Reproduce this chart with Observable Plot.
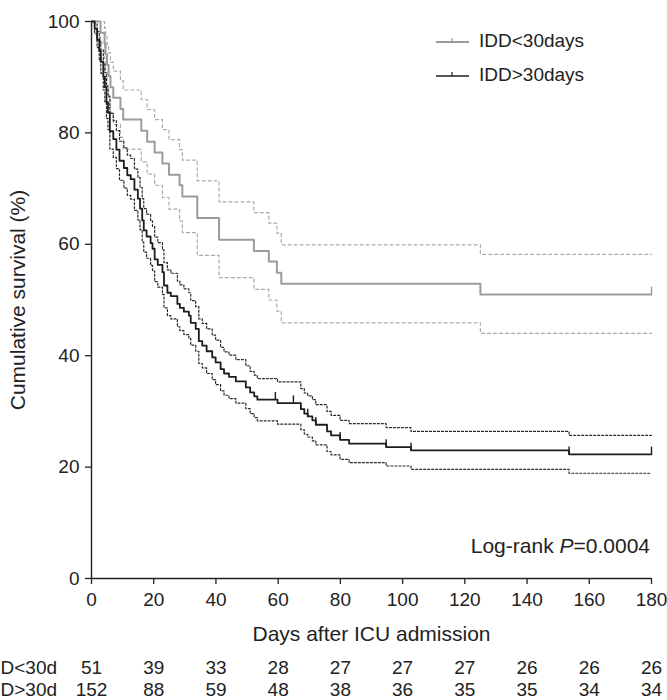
<!DOCTYPE html>
<html><head><meta charset="utf-8">
<script src="https://cdn.jsdelivr.net/npm/d3@7"></script>
<script src="https://cdn.jsdelivr.net/npm/@observablehq/plot@0.6"></script>
<style>
body{margin:0;background:#fff;font-family:"Liberation Sans",Arial,sans-serif;}
#wrap{position:relative;width:667px;height:700px;overflow:hidden;background:#fff;}
#wrap svg{display:block;}
.leg{position:absolute;font-size:19px;color:#222;display:flex;align-items:center;white-space:nowrap;}
#logrank{position:absolute;right:17px;top:534px;font-size:21px;color:#222;white-space:nowrap;}
</style></head><body><div id="wrap"></div>
<script>
// ---- data ----
const groups = ["IDD<30days", "IDD>30days"];
const riskLabels = ["IDD<30d", "IDD>30d"];

const lowTime  = [0,2.9,4.2,4.5,5.0,5.5,6.1,7.0,9.3,10.2,16.0,17.9,20.3,22.8,24.9,28.3,29.2,34,41,52.2,57,59.6,61,125,180];
const lowSurv  = [100,98.0,96.1,94.1,92.2,90.2,88.2,86.3,84.3,82.4,80.4,78.4,76.5,74.5,72.5,70.6,68.6,64.7,60.8,58.8,56.9,54.9,52.9,51.0,51.0];
const lowUpper = [100,100,98.8,97.4,95.9,94.4,92.7,91.1,89.4,87.7,86.0,84.2,82.4,80.6,78.8,77.0,75.1,71.4,67.6,65.7,63.8,62.0,59.9,58.2,58.2];
const lowLower = [100,96.1,93.4,90.8,88.4,86.0,83.7,81.5,79.2,77.1,74.8,72.6,70.6,68.4,66.3,64.2,62.1,58.0,54.0,51.9,50.0,48.0,45.9,44.0,44.0];
const lowCensor = [180];

const highTime  = [0,1.0,1.8,2.5,3.0,3.8,4.3,4.8,5.3,5.9,7.0,8.0,9.0,10.4,11.5,12.6,13.8,14.9,15.6,16.3,16.8,17.7,19.0,19.6,20.3,21.3,22.8,23.3,24.4,25.5,27.6,28.4,29.7,31.3,31.9,33.5,34.5,35.6,37.0,38.8,39.9,41.5,42.6,44.2,46.4,49.6,51.0,52.3,53.3,59.8,67.3,68.4,69.5,71.0,72.1,75.7,77.0,79.9,82.8,94.7,102.7,153.5,180];
const highSurv  = [100,98.7,96.7,94.7,92.8,90.1,88.2,85.5,83.6,80.3,78.9,77.0,75.0,73.7,72.4,71.7,69.8,68.2,66.4,64.3,62.5,61.4,60.2,59.2,57.3,56.3,55.0,52.6,51.3,50.7,49.3,48.6,47.9,47.2,45.9,44.8,42.6,41.8,40.8,39.7,38.8,37.6,36.8,36.2,35.4,34.3,33.4,32.7,32.1,31.5,30.4,29.6,29.1,28.4,27.6,26.4,25.7,24.9,24.2,23.6,23.0,22.3,22.3];
const highUpper = [100,99.6,98.2,96.5,94.9,92.5,90.8,88.4,86.6,83.5,82.2,80.4,78.5,77.3,76.0,75.4,73.5,72.0,70.2,68.2,66.4,65.4,64.2,63.2,61.3,60.3,59.0,56.7,55.4,54.8,53.4,52.7,52.0,51.3,49.9,48.8,46.6,45.8,44.8,43.7,42.8,41.5,40.7,40.1,39.3,38.2,37.2,36.5,35.9,35.3,34.1,33.3,32.8,32.1,31.2,30.0,29.3,28.4,27.8,27.1,26.4,25.7,25.7];
const highLower = [100,97.8,95.3,92.9,90.7,87.7,85.6,82.6,80.6,77.1,75.6,73.6,71.5,70.1,68.8,68.1,66.1,64.4,62.6,60.4,58.6,57.5,56.2,55.2,53.3,52.3,51.0,48.6,47.2,46.6,45.2,44.5,43.8,43.1,41.9,40.8,38.6,37.8,36.8,35.7,34.8,33.7,32.9,32.3,31.5,30.5,29.6,28.9,28.3,27.7,26.7,25.9,25.4,24.7,24.0,22.8,22.2,21.4,20.8,20.2,19.6,18.9,18.9];
const highCensor = [59.1,64.9,69.5,72.1,79.9,94.7,102.7,153.5,180];

const xTicks = [0,20,40,60,80,100,120,140,160,180];
const yTicks = [0,20,40,60,80,100];
const riskDays = [0,20,40,60,80,100,120,140,160,180];
const riskLow  = [51,39,33,28,27,27,27,26,26,26];
const riskHigh = [152,88,59,48,38,36,35,35,34,34];

// ---- build tables ----
const series = (t, v) => t.map((d, i) => ({t: d, v: v[i]}));
const survAt = (times, surv, t) => { let v = surv[0]; times.forEach((d, i) => { if (d <= t) v = surv[i]; }); return v; };
const censor = (c, times, surv) => c.map(t => ({t, v: survAt(times, surv, t)}));

const font = "Liberation Sans, Arial, Helvetica, sans-serif";
const fsTick = 19, fsLabel = 21, fsTable = 19;
const grayC = "#9b9b9b", grayCI = "#ababab", blackC = "#1c1c1c", blackCI = "#2a2a2a";

const main = Plot.plot({
  width: 667, height: 645,
  marginLeft: 91, marginRight: 16, marginTop: 21, marginBottom: 67,
  style: {fontFamily: font, fontSize: fsTick + "px", color: "#222", background: "#fff", overflow: "visible"},
  x: {domain: [0, 180]},
  y: {domain: [0, 100]},
  marks: [
    Plot.axisY({ticks: yTicks, tickSize: 6, tickPadding: 6, fontSize: fsTick, strokeWidth: 1.3, label: null}),
    Plot.axisY({ticks: [], tickSize: 0, fontSize: fsLabel,
      label: "Cumulative survival (%)", labelAnchor: "center", labelArrow: "none", labelOffset: 81}),
    Plot.axisX({ticks: xTicks, tickSize: 6, tickPadding: 8, fontSize: fsTick, strokeWidth: 1.3, label: null}),
    Plot.axisX({ticks: [], tickSize: 0, fontSize: fsLabel,
      label: "Days after ICU admission", labelAnchor: "center", labelArrow: "none", labelOffset: 62}),
    Plot.ruleX([0], {stroke: "#222", strokeWidth: 1.4}),
    Plot.ruleY([0], {stroke: "#222", strokeWidth: 1.4}),
    Plot.line(series(lowTime, lowUpper), {x: "t", y: "v", curve: "step-after", stroke: grayCI, strokeWidth: 1.2, strokeDasharray: "3,3"}),
    Plot.line(series(lowTime, lowLower), {x: "t", y: "v", curve: "step-after", stroke: grayCI, strokeWidth: 1.2, strokeDasharray: "3,3"}),
    Plot.line(series(highTime, highUpper), {x: "t", y: "v", curve: "step-after", stroke: blackCI, strokeWidth: 1.2, strokeDasharray: "2,2"}),
    Plot.line(series(highTime, highLower), {x: "t", y: "v", curve: "step-after", stroke: blackCI, strokeWidth: 1.2, strokeDasharray: "2,2"}),
    Plot.line(series(lowTime, lowSurv), {x: "t", y: "v", curve: "step-after", stroke: grayC, strokeWidth: 2}),
    Plot.line(series(highTime, highSurv), {x: "t", y: "v", curve: "step-after", stroke: blackC, strokeWidth: 1.8}),
    Plot.ruleX(censor(lowCensor, lowTime, lowSurv), {x: "t", y1: "v", y2: d => d.v + 1.3, stroke: grayC, strokeWidth: 1.4}),
    Plot.ruleX(censor(highCensor, highTime, highSurv), {x: "t", y1: "v", y2: d => d.v + 1.3, stroke: blackC, strokeWidth: 1.4})
  ]
});

const riskRows = riskDays.flatMap((d, i) => [
  {t: d, g: riskLabels[0], n: riskLow[i]},
  {t: d, g: riskLabels[1], n: riskHigh[i]}
]);

const table = Plot.plot({
  width: 667, height: 55,
  marginLeft: 91, marginRight: 16, marginTop: 0, marginBottom: 0,
  style: {fontFamily: font, fontSize: fsTable + "px", color: "#222", background: "#fff", overflow: "visible"},
  x: {domain: [0, 180], axis: null},
  y: {type: "point", domain: riskLabels, range: [22, 44], padding: 0, axis: null},
  marks: [
    Plot.text(riskRows, {x: "t", y: "g", text: "n", fontSize: fsTable, fill: "#222"}),
    Plot.text(riskLabels, {y: d => d, text: d => d, frameAnchor: "left", dx: -110, textAnchor: "start", fontSize: fsTable, fill: "#222"})
  ]
});

const wrap = document.getElementById("wrap");
wrap.appendChild(main);
wrap.appendChild(table);

// legend
const legColors = [grayC, blackC];
groups.forEach((g, i) => {
  const div = document.createElement("div");
  div.className = "leg";
  div.style.left = "436px";
  div.style.top = (30 + i * 34) + "px";
  div.innerHTML = `<svg width="34" height="22" style="margin-right:9px"><line x1="0" x2="33" y1="12" y2="12" stroke="${legColors[i]}" stroke-width="${i ? 1.6 : 2}"/><line x1="16" x2="16" y1="8" y2="12" stroke="${legColors[i]}" stroke-width="1.2"/></svg><span>${g}</span>`;
  wrap.appendChild(div);
});

const lr = document.createElement("div");
lr.id = "logrank";
lr.innerHTML = "Log-rank <i>P</i>=0.0004";
wrap.appendChild(lr);
</script>
</body></html>
